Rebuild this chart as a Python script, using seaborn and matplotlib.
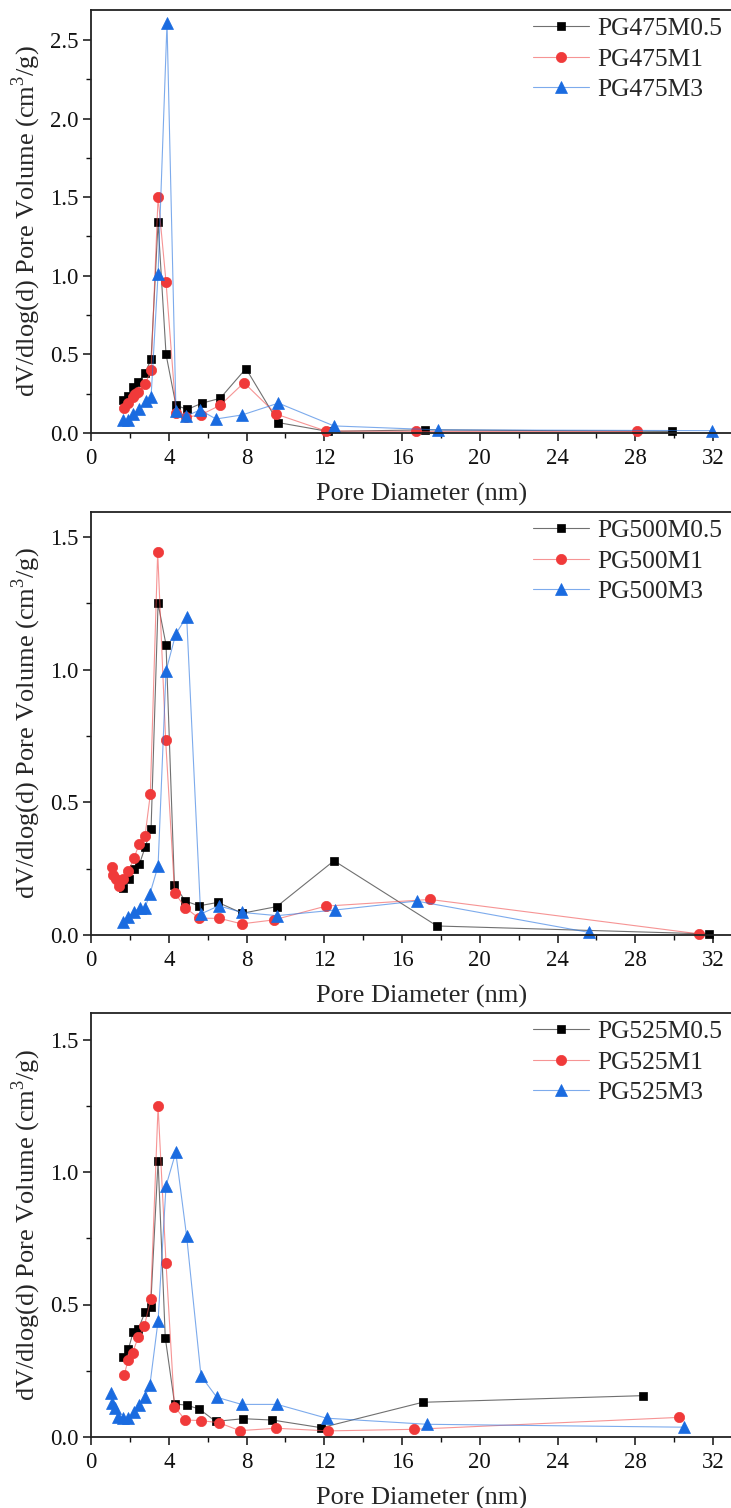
import matplotlib
matplotlib.use("Agg")
import matplotlib.pyplot as plt
import seaborn as sns
import pandas as pd
from matplotlib.ticker import MultipleLocator, FormatStrFormatter

# ---- pore size distributions (BJH), pore diameter in nm, dV/dlog(d) in cm3/g ----
d_475_m05 = [1.63, 1.89, 2.14, 2.43, 2.78, 3.09, 3.45, 3.86, 4.37, 4.96, 5.71, 6.64, 7.97, 9.64, 12.19, 17.2, 29.9]
v_475_m05 = [0.21, 0.235, 0.29, 0.325, 0.38, 0.47, 1.34, 0.50, 0.176, 0.15, 0.19, 0.22, 0.41, 0.066, 0.01, 0.02, 0.01]
d_475_m1 = [1.71, 1.92, 2.18, 2.26, 2.43, 2.78, 3.09, 3.45, 3.86, 4.37, 4.89, 5.64, 6.64, 7.87, 9.53, 12.07, 16.7, 28.1]
v_475_m1 = [0.157, 0.19, 0.23, 0.25, 0.26, 0.31, 0.40, 1.50, 0.96, 0.13, 0.10, 0.115, 0.176, 0.32, 0.12, 0.013, 0.01, 0.01]
d_475_m3 = [1.63, 1.92, 2.18, 2.49, 2.81, 3.09, 3.45, 3.91, 4.37, 4.89, 5.61, 6.43, 7.78, 9.64, 12.5, 17.83, 31.94]
v_475_m3 = [0.08, 0.085, 0.12, 0.15, 0.205, 0.23, 1.01, 2.61, 0.14, 0.108, 0.146, 0.089, 0.115, 0.19, 0.045, 0.02, 0.015]

d_500_m05 = [1.66, 1.97, 2.21, 2.49, 2.78, 3.09, 3.45, 3.86, 4.29, 4.85, 5.56, 6.53, 7.78, 9.55, 12.5, 17.8, 31.8]
v_500_m05 = [0.176, 0.21, 0.25, 0.267, 0.33, 0.40, 1.25, 1.094, 0.19, 0.128, 0.11, 0.123, 0.082, 0.107, 0.28, 0.034, 0.004]
d_500_m1 = [1.06, 1.15, 1.29, 1.46, 1.66, 1.92, 2.21, 2.49, 2.78, 3.05, 3.43, 3.84, 4.30, 4.85, 5.56, 6.60, 7.75, 9.41, 12.09, 17.44, 31.3]
v_500_m1 = [0.257, 0.226, 0.21, 0.185, 0.21, 0.24, 0.29, 0.345, 0.374, 0.53, 1.444, 0.735, 0.16, 0.103, 0.063, 0.063, 0.042, 0.057, 0.109, 0.134, 0.004]
d_500_m3 = [1.63, 1.92, 2.21, 2.52, 2.78, 3.03, 3.45, 3.86, 4.36, 4.92, 5.64, 6.57, 7.78, 9.58, 12.53, 16.75, 25.6]
v_500_m3 = [0.05, 0.069, 0.088, 0.103, 0.103, 0.155, 0.26, 0.996, 1.135, 1.20, 0.079, 0.11, 0.085, 0.073, 0.094, 0.128, 0.01]

d_525_m05 = [1.66, 1.92, 2.18, 2.43, 2.78, 3.07, 3.45, 3.82, 4.30, 4.92, 5.56, 6.41, 7.84, 9.33, 11.85, 17.06, 28.38]
v_525_m05 = [0.303, 0.331, 0.398, 0.407, 0.471, 0.492, 1.043, 0.375, 0.125, 0.12, 0.106, 0.059, 0.069, 0.064, 0.035, 0.131, 0.156]
d_525_m1 = [1.70, 1.92, 2.14, 2.43, 2.74, 3.07, 3.45, 3.86, 4.29, 4.85, 5.64, 6.57, 7.66, 9.52, 12.2, 16.6, 30.25]
v_525_m1 = [0.234, 0.291, 0.318, 0.377, 0.417, 0.52, 1.248, 0.656, 0.115, 0.064, 0.062, 0.054, 0.024, 0.033, 0.023, 0.029, 0.074]
d_525_m3 = [1.01, 1.10, 1.23, 1.37, 1.63, 1.92, 2.21, 2.49, 2.78, 3.03, 3.45, 3.86, 4.36, 4.92, 5.66, 6.47, 7.75, 9.58, 12.12, 17.27, 30.5]
v_525_m3 = [0.165, 0.127, 0.108, 0.077, 0.071, 0.071, 0.096, 0.121, 0.152, 0.196, 0.438, 0.948, 1.074, 0.757, 0.23, 0.15, 0.123, 0.123, 0.071, 0.048, 0.037]

panels = [
    {"labels": ["PG475M0.5", "PG475M1", "PG475M3"],
     "data": [(d_475_m05, v_475_m05), (d_475_m1, v_475_m1), (d_475_m3, v_475_m3)],
     "ylim": 2.69},
    {"labels": ["PG500M0.5", "PG500M1", "PG500M3"],
     "data": [(d_500_m05, v_500_m05), (d_500_m1, v_500_m1), (d_500_m3, v_500_m3)],
     "ylim": 1.595},
    {"labels": ["PG525M0.5", "PG525M1", "PG525M3"],
     "data": [(d_525_m05, v_525_m05), (d_525_m1, v_525_m1), (d_525_m3, v_525_m3)],
     "ylim": 1.60},
]

sns.set_theme(style="ticks")
plt.rcParams["font.family"] = ["Liberation Serif", "DejaVu Serif"]
plt.rcParams["mathtext.fontset"] = "custom"
plt.rcParams["mathtext.rm"] = "Liberation Serif"

W, H = 731, 1508
fig = plt.figure(figsize=(W / 100, H / 100), dpi=100)

colors = ["#000000", "#f03a3a", "#1a6be0"]
line_rgba = [(0.25, 0.25, 0.25, 0.75), (0.94, 0.30, 0.30, 0.6), (0.15, 0.45, 0.88, 0.6)]
markers = ["s", "o", "^"]
msizes = [6.4, 7.4, 8.0]

# axes geometry in pixels: (top, bottom) of each frame
frames = [(10, 433), (512, 935), (1013, 1437)]
x0_px = 91
px_per_nm = 19.44
xmax = 34.0

for p, (top, bot) in zip(panels, frames):
    ax = fig.add_axes([x0_px / W, 1 - bot / H, xmax * px_per_nm / W, (bot - top) / H])
    for (d, v), lab, c, lc, mk, ms in zip(p["data"], p["labels"], colors, line_rgba, markers, msizes):
        df = pd.DataFrame({"d": d, "v": v})
        sns.lineplot(data=df, x="d", y="v", ax=ax, estimator=None, sort=True,
                     color=lc, linewidth=0.8, marker=mk, markersize=ms,
                     markerfacecolor=c, markeredgecolor=c, markeredgewidth=0.5,
                     label=lab, clip_on=False)
    ax.set_xlim(0, xmax)
    ax.set_ylim(0, p["ylim"])
    ax.xaxis.set_major_locator(MultipleLocator(4))
    ax.xaxis.set_minor_locator(MultipleLocator(2))
    ax.yaxis.set_major_locator(MultipleLocator(0.5))
    ax.yaxis.set_minor_locator(MultipleLocator(0.25))
    ax.yaxis.set_major_formatter(FormatStrFormatter("%.1f"))
    ax.tick_params(which="major", direction="out", length=6, width=1.1, labelsize=16.5,
                   colors="#111111", pad=3)
    ax.tick_params(axis="x", which="major", pad=5)
    ax.tick_params(which="minor", direction="out", length=3.5, width=1.0, colors="#111111")
    ax.tick_params(top=False, right=False)
    for s in ax.spines.values():
        s.set_linewidth(1.3)
        s.set_color("#222222")
    ax.set_xlabel("Pore Diameter (nm)", fontsize=19, labelpad=10)
    ax.set_ylabel("dV/dlog(d) Pore Volume (cm$^3$/g)", fontsize=19, labelpad=5)
    ax.legend(loc="upper right", bbox_to_anchor=(732 / W, 1 - (top - 3) / H),
              bbox_transform=fig.transFigure, frameon=False, fontsize=18.4,
              handlelength=2.2, handletextpad=0.3, labelspacing=0.3, borderaxespad=0)

fig.savefig("out.png", dpi=100)
